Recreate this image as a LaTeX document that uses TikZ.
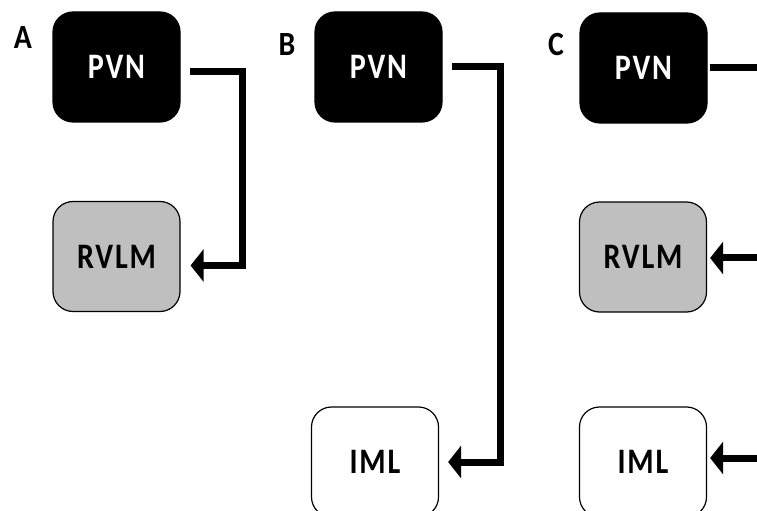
\documentclass[tikz,border=0pt]{standalone}
\usepackage{fontspec}
\setmainfont{Carlito}
\usetikzlibrary{arrows.meta}
\begin{document}
\begin{tikzpicture}[x=1bp,y=-1bp,
  box/.style={draw=black,line width=1.2bp,rounded corners=20bp,minimum width=127bp,minimum height=110bp,inner sep=0pt,font=\fontsize{36}{40}\selectfont\bfseries\addfontfeatures{LetterSpace=5,FakeStretch=0.84}},
  pvn/.style={box,fill=black,text=white},
  rvlm/.style={box,fill=black!25},
  iml/.style={box,fill=white},
  conn/.style={draw=black,line width=7bp,-{Triangle[length=13bp,width=32bp]}},
  plain/.style={draw=black,line width=7bp},
  lab/.style={font=\fontsize{34}{36}\selectfont\bfseries\addfontfeatures{FakeStretch=0.88},anchor=center}]
\useasboundingbox (0,0) rectangle (757,511);
% Panel A
\node[lab] (la) at (23,38) {A};
\node[pvn] (pA) at (116.5,67) {PVN};
\node[rvlm] (rA) at (116.5,256.5) {RVLM};
\draw[conn] ([xshift=9bp,yshift=-5bp]pA.east) -| (242,200) |- ([xshift=10bp,yshift=-9bp]rA.east);
% Panel B
\node[lab] (lb) at (287,45) {B};
\node[pvn] (pB) at (378.5,67) {PVN};
\node[iml] (iB) at (375,462) {IML};
\draw[conn] ([xshift=9bp]pB.east) -| (500,300) |- ([xshift=9bp]iB.east);
% Panel C
\node[lab] (lc) at (556,45) {C};
\node[pvn] (pC) at (643.5,68) {PVN};
\node[rvlm] (rC) at (643,257) {RVLM};
\node[iml] (iC) at (643,462) {IML};
\coordinate (e1) at (765,68);
\coordinate (e2) at (765,258);
\coordinate (e3) at (765,458);
\draw[plain] ([xshift=2bp]pC.east) -- (e1);
\draw[conn] (e2) -- ([xshift=3bp]rC.east |- e2);
\draw[conn] (e3) -- ([xshift=3bp]iC.east |- e3);
\end{tikzpicture}
\end{document}
